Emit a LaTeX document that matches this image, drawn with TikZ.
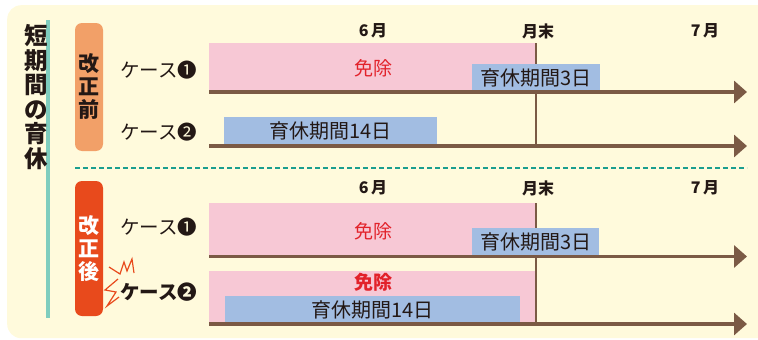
\documentclass[tikz,border=0pt]{standalone}
\usepackage{fontspec}
\newfontfamily\jp{Noto Sans CJK JP}
\usetikzlibrary{arrows.meta, positioning}

\definecolor{bgyellow}{RGB}{255,250,220}
\definecolor{barteal}{RGB}{127,205,190}
\definecolor{dashteal}{RGB}{26,158,143}
\definecolor{beforeorange}{RGB}{242,160,104}
\definecolor{afterred}{RGB}{232,74,28}
\definecolor{menpink}{RGB}{247,200,213}
\definecolor{kyublue}{RGB}{162,189,226}
\definecolor{axbrown}{RGB}{123,90,69}
\definecolor{menred}{RGB}{226,34,42}
\definecolor{inkblack}{RGB}{35,24,21}

\begin{document}
\begin{tikzpicture}[x=1pt, y=-1pt, >=Stealth]
\tikzset{
    band/.style={rectangle, inner sep=0pt, anchor=north west, minimum width=327pt},
    pinkband/.style={band, fill=menpink},
    blueband/.style={rectangle, inner sep=0pt, anchor=north west, fill=kyublue, minimum height=27pt,
        font=\jp\fontsize{20}{22}\selectfont, text=inkblack},
    period/.style={rectangle, rounded corners=7pt, inner sep=0pt, minimum width=28pt, align=center},
    axis/.style={-{Triangle[length=13pt, width=22pt]}, line width=3.5pt, draw=axbrown},
    monthend/.style={line width=2.5pt, draw=axbrown},
    case/.style={anchor=east, font=\jp\fontsize{19.5}{20}\selectfont, text=inkblack},
    month/.style={font=\jp\bfseries\fontsize{16}{17}\selectfont, text=inkblack},
    exempt/.style={font=\jp\fontsize{19}{20}\selectfont, text=menred}
}
\useasboundingbox (0,0) rectangle (758,340);

% --- Background ---
\node (bg) at (7,5) [rectangle, anchor=north west, fill=bgyellow, rounded corners=14pt,
    minimum width=770pt, minimum height=333pt, inner sep=0pt] {};
\node (bar) at (48,169) [rectangle, fill=barteal, inner sep=0pt, minimum width=4pt, minimum height=298pt] {};
\node (title) at (36,97) [align=center, inner sep=0pt, text=inkblack,
    font=\jp\bfseries\fontsize{23.5}{24.5}\selectfont] {短\\期\\間\\の\\育\\休};

% --- Before revision (top) ---
\node (before) at (89,87) [period, fill=beforeorange, minimum height=128pt, text=inkblack,
    font=\jp\bfseries\fontsize{21}{23}\selectfont] {改\\正\\前};

\node (m6a) at (373,31) [month] {6\,月};
\node (endA) at (538,31) [month] {月末};
\node (m7a) at (705,31) [month] {7\,月};

\node (pinkA) at (209,43) [pinkband, minimum height=48pt] {};
\node (exA) at (373,68) [exempt] {免除};
\coordinate (topA) at (536,43);
\coordinate (botA) at (536,146);
\draw[monthend] (topA) -- (botA);
\node (leaveA) at (472,64) [blueband, minimum width=128pt] {育休期間3日};
\node (leaveB) at (224,117) [blueband, minimum width=213pt] {育休期間14日};

\node (caseA) at (201,70) [case] {ケース❶};
\node (caseB) at (201,132) [case] {ケース❷};

\coordinate (a1s) at (209,92);  \coordinate (a1e) at (747,92);
\coordinate (a2s) at (209,146); \coordinate (a2e) at (747,146);
\draw[axis] (a1s) -- (a1e);
\draw[axis] (a2s) -- (a2e);

% --- Separator ---
\coordinate (sepL) at (75,168);
\coordinate (sepR) at (747,168);
\draw[dashteal, line width=2pt, dash pattern=on 5pt off 3pt] (sepL) -- (sepR);

% --- After revision (bottom) ---
\node (after) at (89,248.5) [period, fill=afterred, minimum height=135pt, text=white,
    font=\jp\bfseries\fontsize{21}{23}\selectfont] {改\\正\\後};

\node (m6b) at (373,188) [month] {6\,月};
\node (endB) at (538,188) [month] {月末};
\node (m7b) at (705,188) [month] {7\,月};

\node (pinkC) at (209,203) [pinkband, minimum height=52pt] {};
\node (pinkD) at (209,271) [pinkband, minimum height=52pt] {};
\node (exC) at (373,231) [exempt] {免除};
\node (exD) at (373,282) [exempt, font=\jp\bfseries\fontsize{19}{20}\selectfont] {免除};
\coordinate (topB) at (536,203);
\coordinate (botB) at (536,324);
\draw[monthend] (topB) -- (botB);
\node (leaveC) at (472,228) [blueband, minimum width=127pt] {育休期間3日};
\node (leaveD) at (225,296) [blueband, minimum width=295pt] {育休期間14日};

\node (caseC) at (201,227) [case] {ケース❶};
\node (caseD) at (201,292) [case, font=\jp\bfseries\fontsize{19.5}{20}\selectfont] {ケース❷};

% burst next to case 2
\draw[afterred, line width=1.2pt, line join=miter]
    (109,267) -- (120,274) -- (124,262) -- (127,271) -- (132,259) -- (134,273);
\draw[afterred, line width=1.2pt, line join=miter]
    (118,279) -- (105,290) -- (116,292) -- (107,306) -- (119,297);

\coordinate (b1s) at (209,256.5); \coordinate (b1e) at (747,256.5);
\coordinate (b2s) at (209,324);   \coordinate (b2e) at (747,324);
\draw[axis] (b1s) -- (b1e);
\draw[axis] (b2s) -- (b2e);

\end{tikzpicture}
\end{document}
